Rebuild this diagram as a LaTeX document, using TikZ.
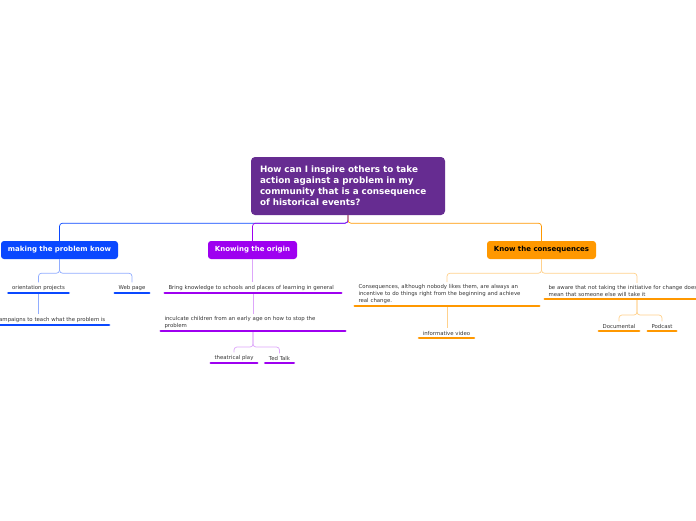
\documentclass[tikz,border=0pt]{standalone}
\usepackage{fontspec}
\setmainfont{DejaVu Sans}
\definecolor{rootpurple}{RGB}{102,44,145}
\definecolor{mapblue}{RGB}{10,72,255}
\definecolor{mappurple}{RGB}{158,0,240}
\definecolor{maporange}{RGB}{255,152,0}
\definecolor{inkgray}{RGB}{55,55,55}
\tikzset{
  topic/.style={rounded corners=3pt, minimum height=18pt, inner xsep=2pt,
    font=\fontsize{7}{8}\selectfont\bfseries, text=white},
  sub/.style={anchor=south, inner xsep=3.5pt, inner ysep=2.5pt, align=left,
    text=inkgray, font=\fontsize{5.4}{6.6}\selectfont},
  bar/.style={line width=2.8pt, line cap=round},
  twig/.style={line width=0.7pt, rounded corners=3pt},
}
\begin{document}
\begin{tikzpicture}[x=1pt, y=-1pt]
    \useasboundingbox[fill=white] (0,0) rectangle (696,520);

    % --- central question ----------------------------------------------
    \node[fill=rootpurple, rounded corners=4pt, minimum height=58pt,
          text width=176pt, inner xsep=9pt, align=left, text=white,
          font=\fontsize{8.8}{11}\selectfont\bfseries] (root) at (348,186)
      {How can I inspire others to take\\ action against a problem in my\\
       community that is a consequence\\ of historical events?};

    % --- main topics ---------------------------------------------------
    \node[topic, fill=mapblue, minimum width=117pt] (making) at (59.5,250)
      {making the problem know};
    \node[topic, fill=mappurple, minimum width=89pt] (origin) at (252.5,250)
      {Knowing the origin};
    \node[topic, fill=maporange, minimum width=109pt, text=black] (conseq)
      at (541.5,250) {Know the consequences};

    \draw[twig, mapblue] (root.south) -- ++(0,8) -| (making.north);
    \draw[twig, mappurple] (root.south) -- ++(0,8) -| (origin.north);
    \draw[twig, maporange] (root.south) -- ++(0,8) -| (conseq.north);

    % --- subtopics -----------------------------------------------------
    \node[sub] (orient) at (38.5,293) {orientation projects};
    \node[sub] (web) at (132,293) {Web page};
    \node[sub, anchor=south east] (campaign) at (109,325)
      {Campaigns to teach what the problem is};

    \node[sub, text width=169pt] (bring) at (253,293)
      {Bring knowledge to schools and places of learning in general};
    \node[sub, text width=177pt] (inculcate) at (253,331)
      {inculcate children from an early age on how to stop the\\ problem};
    \node[sub] (play) at (234,363) {theatrical play};
    \node[sub] (ted) at (279.5,363) {Ted Talk};

    \node[sub, text width=177pt] (reasons) at (447,306)
      {Consequences, although nobody likes them, are always an\\
       incentive to do things right from the beginning and achieve\\
       real change.};
    \node[sub] (video) at (446.5,338) {informative video};
    \node[sub, text width=177pt] (aware) at (637,299)
      {be aware that not taking the initiative for change does\\
       mean that someone else will take it};
    \node[sub] (docu) at (619,331) {Documental};
    \node[sub] (podcast) at (662,331) {Podcast};

    % --- branches ------------------------------------------------------
    \draw[twig, mapblue!45] (making.south) -- ++(0,14) -| (orient.north);
    \draw[twig, mapblue!45] (making.south) -- ++(0,14) -| (web.north);
    \draw[twig, mapblue!45] (orient.south) -- (orient.south |- campaign.north);

    \draw[twig, mappurple!35] (origin.south) -- (origin.south |- bring.north);
    \draw[twig, mappurple!35] (bring.south) -- (inculcate.north);
    \draw[twig, mappurple!35] (inculcate.south) -- ++(0,16) -| (play.north);
    \draw[twig, mappurple!35] (inculcate.south) -- ++(0,16) -| (ted.north);

    \draw[twig, maporange!45] (conseq.south) -- ++(0,14) -| (reasons.north);
    \draw[twig, maporange!45] (conseq.south) -- ++(0,14) -| (aware.north);
    \draw[twig, maporange!45] (reasons.south) -- (reasons.south |- video.north);
    \draw[twig, maporange!45] (aware.south) -- ++(0,16) -| (docu.north);
    \draw[twig, maporange!45] (aware.south) -- ++(0,16) -| (podcast.north);

    % underlines under every subtopic
    \foreach \n in {orient, web, campaign}
      \draw[bar, mapblue] (\n.south west) -- (\n.south east);
    \foreach \n in {bring, inculcate, play, ted}
      \draw[bar, mappurple] (\n.south west) -- (\n.south east);
    \foreach \n in {reasons, video, aware, docu, podcast}
      \draw[bar, maporange] (\n.south west) -- (\n.south east);
\end{tikzpicture}
\end{document}
